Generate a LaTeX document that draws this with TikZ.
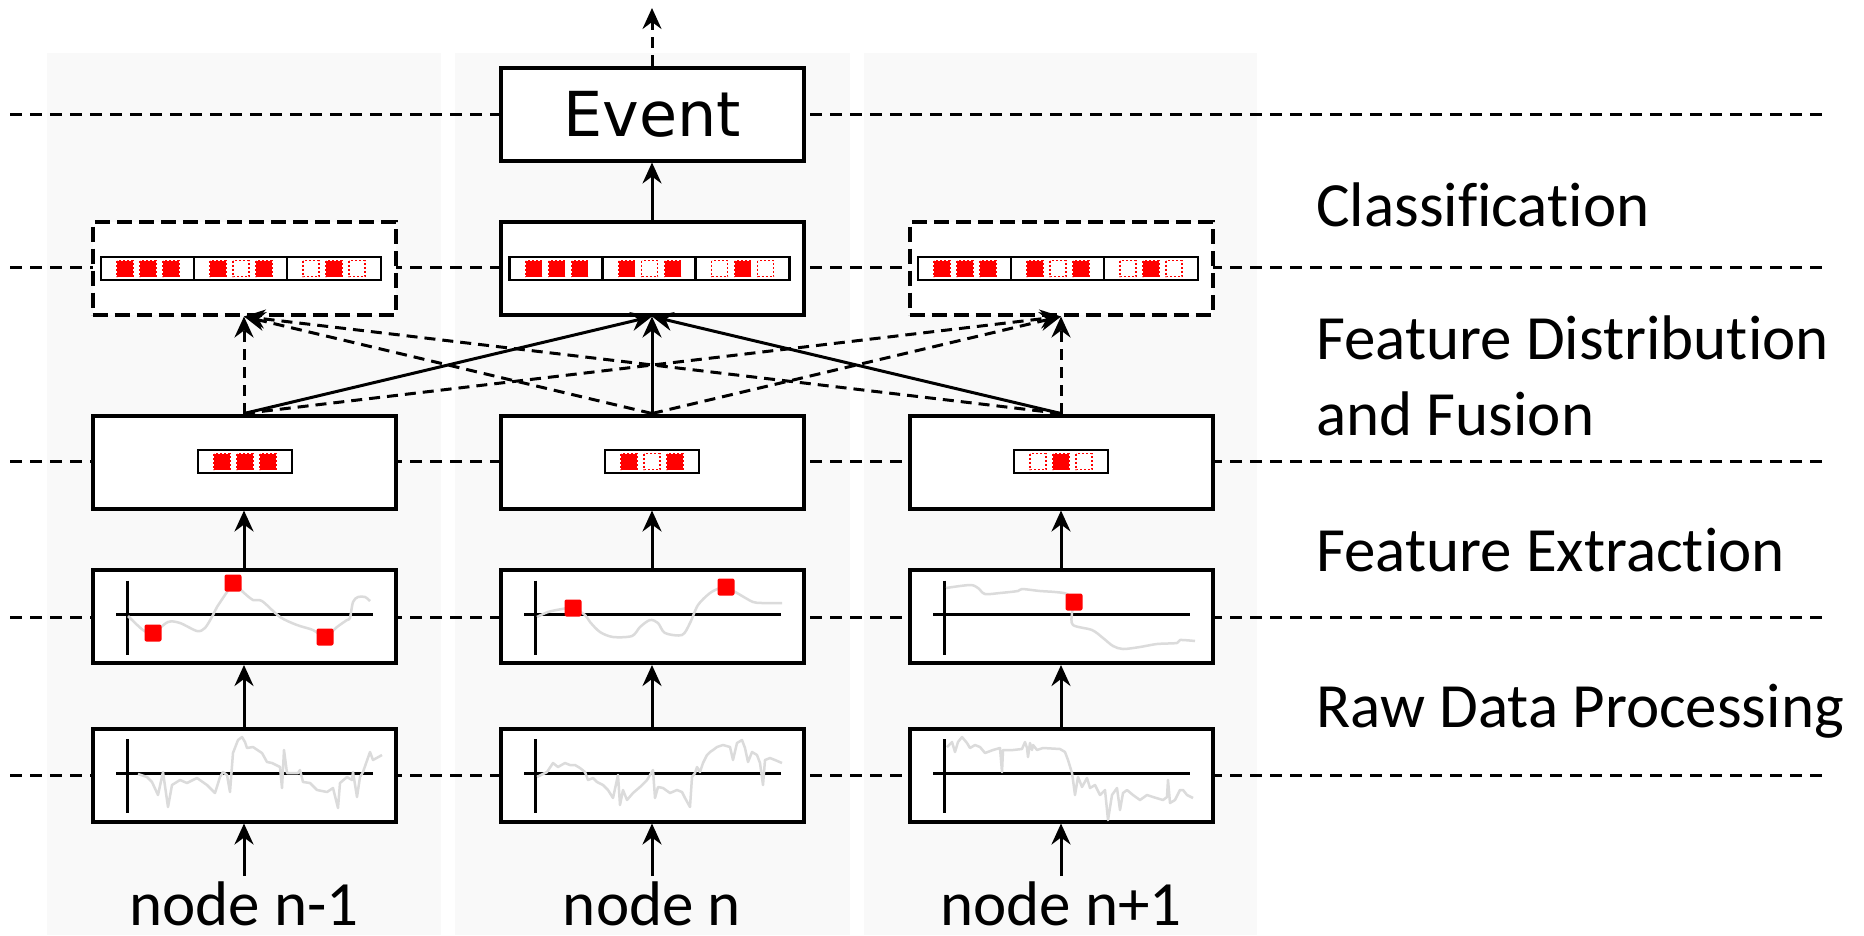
\documentclass[tikz,border=0pt]{standalone}
\usepackage{fontspec}
\setmainfont{Carlito}[Ligatures=NoCommon]
\newfontfamily\dejavu{DejaVu Sans}
\usetikzlibrary{arrows.meta}
\definecolor{colbg}{RGB}{249,249,249}
\definecolor{sig}{RGB}{219,219,219}
\tikzset{
  wbox/.style={draw, line width=4pt, fill=white, minimum width=303pt, minimum height=93pt, inner sep=0pt},
  dbox/.style={wbox, dash pattern=on 15pt off 7pt},
  hline/.style={line width=3pt, dash pattern=on 12pt off 8pt},
  arr/.style={line width=3pt, -{Stealth[length=21pt,width=19pt,inset=7pt]}},
  darr/.style={arr, dash pattern=on 11pt off 7pt},
  axl/.style={line width=3pt},
  sigline/.style={sig, line width=2.5pt, line join=round},
  bigtxt/.style={font=\fontsize{63}{70}\selectfont, inner sep=0pt},
  barline/.style={draw, line width=2.5pt, fill=white},
  fsq/.pic={\draw[red, fill=red, line width=1.6pt, dash pattern=on 2pt off 2pt] (-8,-8) rectangle (8,8);},
  esq/.pic={\draw[red, fill=white, line width=1.6pt, dash pattern=on 2pt off 2pt] (-8,-8) rectangle (8,8);},
}
\newcommand\sbar[5]{%
  \draw[barline] ({#1-47},{#2-11.5}) rectangle ({#1+47},{#2+11.5});
  \pic at ({#1-23},#2) {#3};
  \pic at (#1,#2) {#4};
  \pic at ({#1+23},#2) {#5};
}
\newcommand\bigbar[2]{%
  \sbar{#1-93}{#2}{fsq}{fsq}{fsq}
  \sbar{#1}{#2}{fsq}{esq}{fsq}
  \sbar{#1+93}{#2}{esq}{fsq}{esq}
}
\newcommand\axes[2]{%
  \draw[axl] ({#1-117},{#2-36}) -- ({#1-117},{#2+38});
  \draw[axl] ({#1-128},{#2-2}) -- ({#1+129},{#2-2});
}
\newcommand\rsq[2]{\fill[red, rounded corners=2pt] ({#1-8.5},{#2-8.5}) rectangle ({#1+8.5},{#2+8.5});}
\begin{document}
\begin{tikzpicture}[x=1pt,y=-1pt]
\useasboundingbox (0,0) rectangle (1864,935);
\fill[white] (0,0) rectangle (1864,935);
% column backgrounds
\fill[colbg] (47,53) rectangle (441,935);
\fill[colbg] (455,53) rectangle (850,935);
\fill[colbg] (864,53) rectangle (1257,935);
% horizontal dashed level lines
\foreach \yy/\nm in {114/a,267/b,461/c,617/d,775/e}{
  \coordinate (hl\nm) at (10,\yy);
  \coordinate (hr\nm) at (1825,\yy);
  \draw[hline] (hl\nm) -- (hr\nm);
}
% boxes
\node[wbox, font=\dejavu\fontsize{62}{70}\selectfont] (ev) at (652,114) {Event};
\node[dbox] (c1) at (244,268) {};
\node[wbox] (c2) at (652,268) {};
\node[dbox] (c3) at (1061,268) {};
\node[wbox] (f1) at (244,462) {};
\node[wbox] (f2) at (652,462) {};
\node[wbox] (f3) at (1061,462) {};
\node[wbox] (s1) at (244,616.5) {};
\node[wbox] (s2) at (652,616.5) {};
\node[wbox] (s3) at (1061,616.5) {};
\node[wbox] (r1) at (244,775) {};
\node[wbox] (r2) at (652,775) {};
\node[wbox] (r3) at (1061,775) {};
% feature bars
\bigbar{241}{268.5}
\bigbar{649.5}{268.5}
\bigbar{1058}{268.5}
\sbar{245}{461.5}{fsq}{fsq}{fsq}
\sbar{652}{461.5}{fsq}{esq}{fsq}
\sbar{1061}{461.5}{esq}{fsq}{esq}
% smoothed signals
\axes{244}{616.5}
\axes{652}{616.5}
\axes{1061}{616.5}
\draw[sigline] plot[smooth, tension=0.5] coordinates {(128,616) (143,630) (153,633) (168,622) (180,623) (197,631) (205,628) (213,615) (217,607) (227,592) (233,583) (243,592) (253,600) (262,601) (280,617) (297,625) (313,630) (325,637) (337,627) (347,620) (350,618) (353,602) (358,597) (365,597) (370,601)};
\rsq{153}{633}\rsq{233}{583}\rsq{325}{637}
\draw[sigline] plot[smooth, tension=0.5] coordinates {(537,617) (548,612) (562,609) (573,608) (585,615) (590,622) (600,632) (613,637) (632,636) (640,627) (650,620) (658,623) (665,633) (682,635) (690,623) (698,605) (710,593) (720,588) (726,587) (737,593) (753,602) (763,603) (782,603)};
\rsq{573}{608}\rsq{726}{587}
\draw[sigline] plot[smooth, tension=0.5] coordinates {(946,588) (970,585) (978,588) (985,594) (1000,593) (1018,591) (1022,589) (1040,591) (1055,592) (1067,594) (1074,602) (1072,613) (1073,625) (1092,630) (1103,638) (1113,646) (1123,649) (1140,647) (1157,644) (1177,643) (1180,640) (1195,641)};
\rsq{1074}{602}
% raw signals
\axes{244}{775}
\axes{652}{775}
\axes{1061}{775}
\draw[sigline] (138,774) -- (147,777) -- (152,782) -- (158,795) -- (163,772) -- (168,807) -- (172,785) -- (180,780) -- (187,783) -- (197,778) -- (207,785) -- (215,793) -- (220,777) -- (223,772) -- (227,775) -- (230,792) -- (233,753) -- (238,740) -- (242,737) -- (245,742) -- (247,748) -- (253,747) -- (262,753) -- (267,762) -- (272,763) -- (280,767) -- (282,788) -- (284,750) -- (287,773) -- (298,773) -- (300,770) -- (303,782) -- (310,783) -- (317,790) -- (327,792) -- (333,788) -- (338,808) -- (340,783) -- (347,777) -- (352,780) -- (353,772) -- (357,797) -- (360,777) -- (363,772) -- (370,752) -- (373,760) -- (382,755);
\draw[sigline] (537,777) -- (547,772) -- (553,763) -- (558,767) -- (565,763) -- (570,765) -- (575,765) -- (580,768) -- (585,772) -- (588,780) -- (593,778) -- (597,782) -- (603,785) -- (608,790) -- (613,798) -- (618,775) -- (620,805) -- (623,790) -- (627,800) -- (633,793) -- (640,787) -- (647,780) -- (653,770) -- (655,798) -- (658,787) -- (663,788) -- (670,793) -- (677,790) -- (682,792) -- (685,798) -- (690,807) -- (692,777) -- (695,773) -- (697,767) -- (700,772) -- (703,763) -- (707,755) -- (710,752) -- (713,750) -- (717,747) -- (723,745) -- (730,747) -- (733,760) -- (737,743) -- (742,740) -- (745,748) -- (748,762) -- (752,752) -- (757,755) -- (760,763) -- (763,785) -- (765,760) -- (770,758) -- (775,760) -- (782,763);
\draw[sigline] (947,747) -- (952,742) -- (955,752) -- (958,742) -- (962,737) -- (967,743) -- (970,748) -- (975,745) -- (980,747) -- (985,753) -- (993,750) -- (1000,748) -- (1002,772) -- (1003,750) -- (1013,750) -- (1022,749) -- (1025,742) -- (1027,748) -- (1028,757) -- (1030,743) -- (1032,750) -- (1033,745) -- (1037,750) -- (1043,748) -- (1060,749) -- (1065,752) -- (1068,760) -- (1072,773) -- (1073,780) -- (1075,795) -- (1078,777) -- (1082,787) -- (1087,778) -- (1090,788) -- (1095,785) -- (1100,795) -- (1105,790) -- (1108,820) -- (1112,795) -- (1117,788) -- (1120,810) -- (1123,793) -- (1127,790) -- (1133,795) -- (1140,800) -- (1147,795) -- (1153,797) -- (1163,800) -- (1167,797) -- (1168,780) -- (1170,803) -- (1175,800) -- (1180,790) -- (1183,790) -- (1187,795) -- (1193,798);
% labels
\node[bigtxt, anchor=base] (l1) at (244,925) {node n-1};
\node[bigtxt, anchor=base] (l2) at (652,925) {node n};
\node[bigtxt, anchor=base] (l3) at (1061,925) {node n+1};
\node[bigtxt, anchor=base west] (t1) at (1316,226) {Classification};
\node[bigtxt, anchor=base west] (t2) at (1316,359) {Feature Distribution};
\node[bigtxt, anchor=base west] (t3) at (1316,435) {and Fusion};
\node[bigtxt, anchor=base west] (t4) at (1316,571) {Feature Extraction};
\node[bigtxt, anchor=base west] (t5) at (1316,727) {Raw Data Processing};
% arrows
\coordinate (a1) at (244,876);
\coordinate (a2) at (652,876);
\coordinate (a3) at (1061,876);
\coordinate (top) at (652,8);
\foreach \i in {1,2,3}{
  \draw[arr] (a\i) -- (r\i.south);
  \draw[arr] (r\i.north) -- (s\i.south);
  \draw[arr] (s\i.north) -- (f\i.south);
}
\foreach \i in {1,2,3}{
  \draw[darr] (f\i.north) -- (c1.south);
  \draw[darr] (f\i.north) -- (c3.south);
  \draw[arr] (f\i.north) -- (c2.south);
}
\draw[arr] (c2.north) -- (ev.south);
\draw[darr] (ev.north) -- (top);
\end{tikzpicture}
\end{document}
